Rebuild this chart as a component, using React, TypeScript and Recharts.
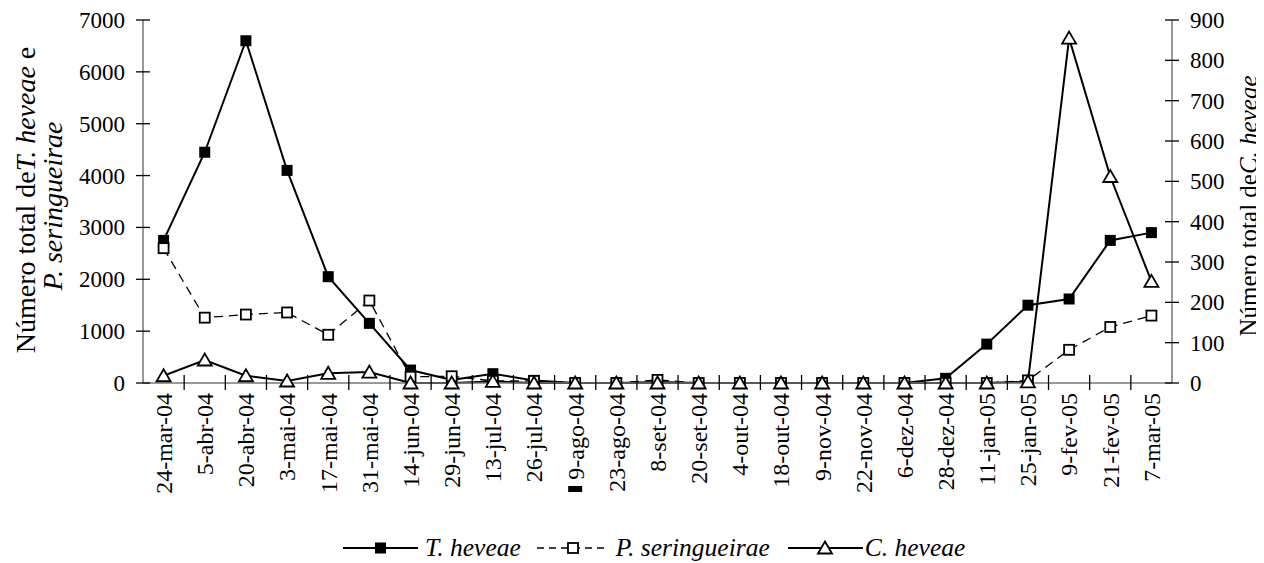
import React from 'react';
import { LineChart, Line, XAxis, YAxis, Legend } from 'recharts';

// Sampling dates
const dates = [
  '24-mar-04', '5-abr-04', '20-abr-04', '3-mai-04', '17-mai-04', '31-mai-04',
  '14-jun-04', '29-jun-04', '13-jul-04', '26-jul-04', '9-ago-04', '23-ago-04',
  '8-set-04', '20-set-04', '4-out-04', '18-out-04', '9-nov-04', '22-nov-04',
  '6-dez-04', '28-dez-04', '11-jan-05', '25-jan-05', '9-fev-05', '21-fev-05', '7-mar-05',
];

// Total counts (left axis)
const tHeveae = [
  2750, 4450, 6600, 4100, 2050, 1150, 250, 60, 180, 50, 0, 0,
  20, 0, 0, 0, 0, 0, 0, 90, 750, 1500, 1620, 2750, 2900,
];
const pSeringueirae = [
  2600, 1260, 1320, 1360, 930, 1590, 120, 130, 40, 40, 0, 0,
  60, 0, 0, 0, 0, 0, 0, 0, 0, 50, 640, 1080, 1300,
];

// Total counts (right axis)
const cHeveae = [
  18, 57, 18, 5, 24, 27, 0, 0, 4, 0, 0, 0,
  0, 0, 0, 0, 0, 0, 0, 0, 0, 3, 855, 512, 252,
];

const leftTicks = [0, 1000, 2000, 3000, 4000, 5000, 6000, 7000];
const rightTicks = [0, 100, 200, 300, 400, 500, 600, 700, 800, 900];

const data = dates.map((date, i) => ({
  date,
  t: tHeveae[i],
  p: pSeringueirae[i],
  c: cHeveae[i],
}));

const FONT = '"Liberation Serif", "Times New Roman", Times, serif';
const W = 1256;
const H = 555;
const MARGIN = { top: 12, right: 0, bottom: 60, left: 0 };
const LEFT_W = 135;
const RIGHT_W = 92;
const X_H = 120;
const PLOT_LEFT = MARGIN.left + LEFT_W;
const PLOT_RIGHT = W - MARGIN.right - RIGHT_W;
const PLOT_BOTTOM = H - MARGIN.bottom - X_H;
const BAND = (PLOT_RIGHT - PLOT_LEFT) / dates.length;
const AXIS_COLOR = '#777';

const LeftTick = (props: any) => {
  const { y, payload } = props;
  return (
    <g>
      <line x1={PLOT_LEFT - 7} x2={PLOT_LEFT + 7} y1={y} y2={y} stroke="#000" strokeWidth={1.3} />
      <text x={PLOT_LEFT - 18} y={y} dy="0.35em" textAnchor="end" fontFamily={FONT} fontSize={23} fill="#000">
        {payload.value}
      </text>
    </g>
  );
};

const RightTick = (props: any) => {
  const { y, payload } = props;
  return (
    <g>
      <line x1={PLOT_RIGHT - 7} x2={PLOT_RIGHT + 7} y1={y} y2={y} stroke="#000" strokeWidth={1.3} />
      <text x={PLOT_RIGHT + 18} y={y} dy="0.35em" textAnchor="start" fontFamily={FONT} fontSize={23} fill="#000">
        {payload.value}
      </text>
    </g>
  );
};

const DateTick = (props: any) => {
  const { x, payload, index } = props;
  const ty = PLOT_BOTTOM + 10;
  return (
    <g>
      {index < dates.length - 1 && (
        <line x1={x + BAND / 2} x2={x + BAND / 2} y1={PLOT_BOTTOM - 8} y2={PLOT_BOTTOM + 7} stroke="#000" strokeWidth={1.3} />
      )}
      <text
        x={x}
        y={ty}
        dy="0.35em"
        transform={`rotate(-90, ${x}, ${ty})`}
        textAnchor="end"
        fontFamily={FONT}
        fontSize={24}
        fill="#000"
      >
        {payload.value}
      </text>
      {payload.value === '9-ago-04' && (
        <rect x={x - 7} y={ty + 93} width={14} height={6} fill="#000" />
      )}
    </g>
  );
};

const FilledSquare = (p: any) => (
  <rect key={`t-${p.index}`} x={p.cx - 5.5} y={p.cy - 5.5} width={11} height={11} fill="#000" />
);

const OpenSquare = (p: any) => (
  <rect key={`p-${p.index}`} x={p.cx - 5} y={p.cy - 5} width={10} height={10} fill="#fff" stroke="#000" strokeWidth={1.8} />
);

const OpenTriangle = (p: any) => (
  <polygon
    key={`c-${p.index}`}
    points={`${p.cx},${p.cy - 6.5} ${p.cx + 7},${p.cy + 5.5} ${p.cx - 7},${p.cy + 5.5}`}
    fill="#fff"
    stroke="#000"
    strokeWidth={1.8}
    strokeLinejoin="miter"
  />
);

const LeftTitle = () => {
  const cy = 192;
  const x1 = 27;
  const x2 = 54;
  return (
    <g fontFamily={FONT} fontSize={28} fill="#000">
      <text x={x1} y={cy} textAnchor="middle" transform={`rotate(-90, ${x1}, ${cy})`}>
        Número total de<tspan fontStyle="italic">T. heveae</tspan> e
      </text>
      <text x={x2} y={cy + 6} textAnchor="middle" transform={`rotate(-90, ${x2}, ${cy + 6})`} fontStyle="italic">
        P. seringueirae
      </text>
    </g>
  );
};

const RightTitle = () => {
  const cy = 198;
  const x = 1249;
  return (
    <text x={x} y={cy} textAnchor="middle" transform={`rotate(-90, ${x}, ${cy})`} fontFamily={FONT} fontSize={25} fill="#000">
      Número total de<tspan fontStyle="italic">C. heveae</tspan>
    </text>
  );
};

const legendText: React.CSSProperties = {
  fontFamily: FONT,
  fontStyle: 'italic',
  fontSize: 25.5,
  color: '#000',
  lineHeight: '30px',
  whiteSpace: 'nowrap',
};

const LegendContent = () => (
  <div style={{ display: 'flex', alignItems: 'center', height: 30 }}>
    <svg width={75} height={20}>
      <line x1={0} x2={75} y1={10} y2={10} stroke="#000" strokeWidth={2} />
      <rect x={32} y={4.5} width={11} height={11} fill="#000" />
    </svg>
    <span style={{ ...legendText, marginLeft: 7 }}>T. heveae</span>
    <svg width={71} height={20} style={{ marginLeft: 16 }}>
      <line x1={0} x2={71} y1={10} y2={10} stroke="#000" strokeWidth={1.3} strokeDasharray="7 5" />
      <rect x={31} y={5} width={10} height={10} fill="#fff" stroke="#000" strokeWidth={1.8} />
    </svg>
    <span style={{ ...legendText, marginLeft: 8 }}>P. seringueirae</span>
    <svg width={75} height={20} style={{ marginLeft: 18 }}>
      <line x1={0} x2={75} y1={10} y2={10} stroke="#000" strokeWidth={2} />
      <polygon points="37,3.5 44,15.5 30,15.5" fill="#fff" stroke="#000" strokeWidth={1.8} />
    </svg>
    <span style={{ ...legendText, marginLeft: 2 }}>C. heveae</span>
  </div>
);

export default function App() {
  return (
    <div style={{ width: W, height: H, background: '#fff' }}>
      <LineChart width={W} height={H} data={data} margin={MARGIN}>
        <XAxis
          dataKey="date"
          scale="band"
          interval={0}
          height={X_H}
          tickLine={false}
          axisLine={{ stroke: AXIS_COLOR, strokeWidth: 1.5 }}
          tick={DateTick}
        />
        <YAxis
          yAxisId="left"
          orientation="left"
          width={LEFT_W}
          domain={[0, 7000]}
          ticks={leftTicks}
          interval={0}
          tickLine={false}
          axisLine={{ stroke: AXIS_COLOR, strokeWidth: 1.5 }}
          tick={LeftTick}
          label={LeftTitle}
        />
        <YAxis
          yAxisId="right"
          orientation="right"
          width={RIGHT_W}
          domain={[0, 900]}
          ticks={rightTicks}
          interval={0}
          tickLine={false}
          axisLine={{ stroke: AXIS_COLOR, strokeWidth: 1.5 }}
          tick={RightTick}
          label={RightTitle}
        />
        <Legend
          verticalAlign="middle"
          align="center"
          layout="horizontal"
          content={LegendContent}
          wrapperStyle={{ position: 'absolute', left: 335, top: 525, width: 'auto' }}
        />
        <Line
          yAxisId="left"
          dataKey="t"
          name="T. heveae"
          stroke="#000"
          strokeWidth={2}
          dot={FilledSquare}
          activeDot={false}
          isAnimationActive={false}
        />
        <Line
          yAxisId="left"
          dataKey="p"
          name="P. seringueirae"
          stroke="#000"
          strokeWidth={1.3}
          strokeDasharray="9 6"
          dot={OpenSquare}
          activeDot={false}
          isAnimationActive={false}
        />
        <Line
          yAxisId="right"
          dataKey="c"
          name="C. heveae"
          stroke="#000"
          strokeWidth={2}
          dot={OpenTriangle}
          activeDot={false}
          isAnimationActive={false}
        />
      </LineChart>
    </div>
  );
}
